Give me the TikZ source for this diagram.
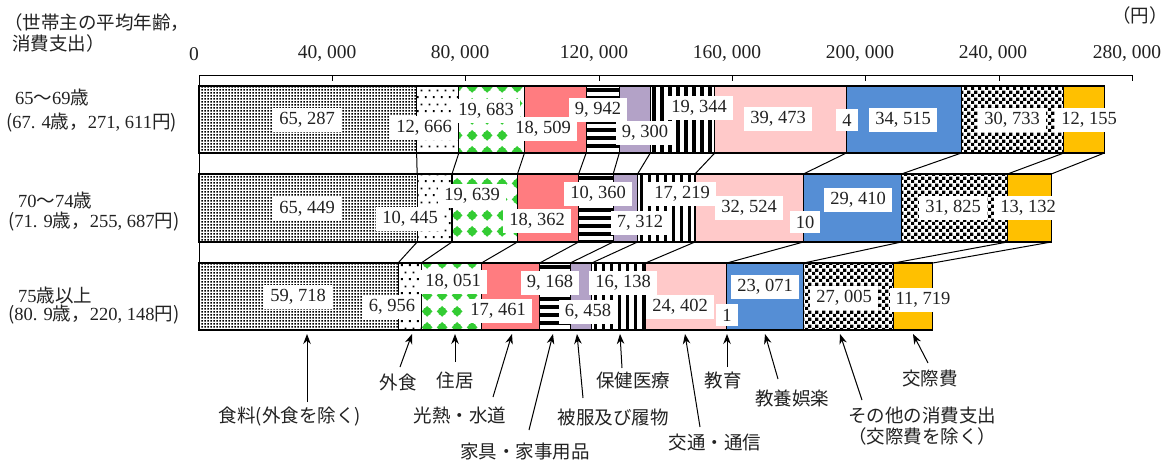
\documentclass[tikz,border=0pt]{standalone}
\usepackage{fontspec}
\setmainfont{Liberation Serif}
\newfontfamily\jp{Noto Sans CJK JP}
\usetikzlibrary{patterns.meta,arrows.meta}
\definecolor{txt}{HTML}{222222}
\definecolor{cutil}{HTML}{FF7C80}
\definecolor{ccloth}{HTML}{B3A2C7}
\definecolor{ctrans}{HTML}{FFC9C9}
\definecolor{crecr}{HTML}{558ED5}
\definecolor{csocial}{HTML}{FFC000}
\definecolor{cgreen}{HTML}{33CC33}
\tikzdeclarepattern{name=finedots,type=uncolored,bottom left={(0pt,0pt)},top right={(3pt,3pt)},tile size={(3pt,3pt)},
  code={\fill (0.6pt,0.6pt) rectangle (2.4pt,2.4pt);}}
\tikzdeclarepattern{name=sparsedots,type=uncolored,bottom left={(0pt,0pt)},top right={(8pt,14pt)},tile size={(8pt,14pt)},
  code={\fill (1pt,1pt) rectangle (3pt,3pt); \fill (5pt,8pt) rectangle (7pt,10pt);}}
\tikzdeclarepattern{name=greenblob,type=uncolored,bottom left={(0pt,0pt)},top right={(15pt,16pt)},tile size={(15pt,16pt)},
  code={\fill (7.5pt,2.3pt) -- (13.2pt,8pt) -- (7.5pt,13.7pt) -- (1.8pt,8pt) -- cycle;
        \fill (4pt,4.5pt) rectangle (11pt,11.5pt);}}
\tikzdeclarepattern{name=checker,type=uncolored,bottom left={(0pt,0pt)},top right={(6.6pt,6.6pt)},tile size={(6.6pt,6.6pt)},
  code={\fill (0pt,0pt) rectangle (3.3pt,3.3pt); \fill (3.3pt,3.3pt) rectangle (6.6pt,6.6pt);}}
\newcommand\hstripebox[4]{%
  \begin{scope}\clip (#1,#2) rectangle (#3,#4);
  \foreach \yy in {0,8,...,72} \fill (#1,{#2+\yy+2}) rectangle (#3,{#2+\yy+5.6});
  \end{scope}\path[seg] (#1,#2) rectangle (#3,#4);}
\newcommand\vstripebox[4]{%
  \begin{scope}\clip (#1,#2) rectangle (#3,#4);
  \foreach \xx in {0,8,...,72} \fill ({#1+\xx+2.2},#2) rectangle ({#1+\xx+5.6},#4);
  \end{scope}\path[seg] (#1,#2) rectangle (#3,#4);}
\tikzset{
  seg/.style={draw=black, line width=1.1pt},
  food/.style={seg, pattern=finedots},
  eat/.style={seg, pattern=sparsedots},
  house/.style={seg, pattern=greenblob, pattern color=cgreen},
  util/.style={seg, fill=cutil},
  cloth/.style={seg, fill=ccloth},
  trans/.style={seg, fill=ctrans},
  edu/.style={seg},
  recr/.style={seg, fill=crecr},
  other/.style={seg, pattern=checker},
  social/.style={seg, fill=csocial},
  conn/.style={line width=1pt},
  num/.style={font=\fontsize{18.5}{20}\selectfont, fill=white, text=txt, inner xsep=6pt, inner ysep=4.5pt},
  axl/.style={font=\fontsize{19.5}{21}\selectfont, text=txt, inner sep=0pt},
  lab/.style={font=\fontsize{18.5}{21}\selectfont\jp, text=txt, inner sep=0pt},
  side/.style={font=\fontsize{18.5}{21}\selectfont, text=txt, inner sep=0pt, anchor=west},
  arr/.style={-{Stealth[length=10pt,width=7.5pt]}, line width=1pt},
}
\begin{document}
\begin{tikzpicture}[x=1pt,y=-1pt]
\useasboundingbox[fill=white] (0,0) rectangle (1173,463);
% top texts
\node[side] (ttl1) at (4,23) {{\jp （世帯主の平均年齢，}};
\node[side] (ttl2) at (12,43) {{\jp 消費支出）}};
\node[lab] (yen) at (1140,15) {（円）};
% axis
\draw[line width=1pt] (199,75) -- (1132.33,75);
\foreach \k in {0,...,7} \draw[line width=1pt] ({199+\k*133.333},75) -- ({199+\k*133.333},80.5);
\node[axl] (ax0) at (194,54) {0};
\node[axl] (ax1) at (327,54) {40, 000};
\node[axl] (ax2) at (460,54) {80, 000};
\node[axl] (ax3) at (594,54) {120, 000};
\node[axl] (ax4) at (727,54) {160, 000};
\node[axl] (ax5) at (860,54) {200, 000};
\node[axl] (ax6) at (993,54) {240, 000};
\node[axl] (ax7) at (1127,54) {280, 000};
% bar 1
\path[food]   (199,86) rectangle (416.62,153);
\path[eat]    (416.62,86) rectangle (458.84,153);
\path[house]  (458.84,86) rectangle (524.45,153);
\path[util]   (524.45,86) rectangle (586.15,153);
\hstripebox{586.15}{86}{619.29}{153}
\path[cloth]  (619.29,86) rectangle (650.29,153);
\vstripebox{650.29}{86}{714.77}{153}
\path[trans]  (714.77,86) rectangle (846.35,153);
\path[edu]    (846.35,86) rectangle (846.36,153);
\path[recr]   (846.36,86) rectangle (961.41,153);
\path[other]  (961.41,86) rectangle (1063.85,153);
\path[social] (1063.85,86) rectangle (1104.37,153);
% bar 2
\path[food]   (199,174) rectangle (417.16,242);
\path[eat]    (417.16,174) rectangle (451.98,242);
\path[house]  (451.98,174) rectangle (517.44,242);
\path[util]   (517.44,174) rectangle (578.65,242);
\hstripebox{578.65}{174}{613.18}{242}
\path[cloth]  (613.18,174) rectangle (637.56,242);
\vstripebox{637.56}{174}{694.95}{242}
\path[trans]  (694.95,174) rectangle (803.37,242);
\path[edu]    (803.37,174) rectangle (803.40,242);
\path[recr]   (803.40,174) rectangle (901.43,242);
\path[other]  (901.43,174) rectangle (1007.52,242);
\path[social] (1007.52,174) rectangle (1051.29,242);
% bar 3
\path[food]   (199,263) rectangle (398.06,330);
\path[eat]    (398.06,263) rectangle (421.25,330);
\path[house]  (421.25,263) rectangle (481.42,330);
\path[util]   (481.42,263) rectangle (539.62,330);
\hstripebox{539.62}{263}{570.18}{330}
\path[cloth]  (570.18,263) rectangle (591.71,330);
\vstripebox{591.71}{263}{645.50}{330}
\path[trans]  (645.50,263) rectangle (726.84,330);
\path[edu]    (726.84,263) rectangle (726.85,330);
\path[recr]   (726.85,263) rectangle (803.75,330);
\path[other]  (803.75,263) rectangle (893.76,330);
\path[social] (893.76,263) rectangle (932.83,330);
% series lines
\draw[line width=1pt] (199,75) -- (199,330);
\foreach \a/\b in {199/199,416.62/417.16,458.84/451.98,524.45/517.44,586.15/578.65,619.29/613.18,650.29/637.56,714.77/694.95,846.35/803.37,961.41/901.43,1063.85/1007.52,1104.37/1051.29}
  \draw[conn] (\a,153) -- (\b,174);
\foreach \a/\b in {199/199,417.16/398.06,451.98/421.25,517.44/481.42,578.65/539.62,613.18/570.18,637.56/591.71,694.95/645.50,803.37/726.84,901.43/803.75,1007.52/893.76,1051.29/932.83}
  \draw[conn] (\a,242) -- (\b,263);
% value labels bar 1
\node[num] (v11) at (307,120) {65, 287};
\node[num] (v12) at (424,128) {12, 666};
\node[num] (v13) at (486,111) {19, 683};
\node[num] (v14) at (543,129) {18, 509};
\node[num] (v15) at (598,110) {9, 942};
\node[num] (v16) at (645,133) {9, 300};
\node[num] (v17) at (699,108) {19, 344};
\node[num] (v18) at (778,119) {39, 473};
\node[num] (v19) at (847,120) {4};
\node[num] (v110) at (903,120) {34, 515};
\node[num] (v111) at (1012,120) {30, 733};
\node[num] (v112) at (1089,120) {12, 155};
% value labels bar 2
\node[num] (v21) at (307,209) {65, 449};
\node[num] (v22) at (410,219) {10, 445};
\node[num] (v23) at (472,196) {19, 639};
\node[num] (v24) at (537,221) {18, 362};
\node[num] (v25) at (598,194) {10, 360};
\node[num] (v26) at (640,223) {7, 312};
\node[num] (v27) at (682,194) {17, 219};
\node[num] (v28) at (749,208) {32, 524};
\node[num] (v29) at (805,222) {10};
\node[num] (v210) at (858,200) {29, 410};
\node[num] (v211) at (953,208) {31, 825};
\node[num] (v212) at (1028,208) {13, 132};
% value labels bar 3
\node[num] (v31) at (298,297) {59, 718};
\node[num] (v32) at (392,307) {6, 956};
\node[num] (v33) at (453,282) {18, 051};
\node[num] (v34) at (498,311) {17, 461};
\node[num] (v35) at (550,283) {9, 168};
\node[num] (v36) at (588,312) {6, 458};
\node[num] (v37) at (623,283) {16, 138};
\node[num] (v38) at (680,307) {24, 402};
\node[num] (v39) at (727,315) {1};
\node[num] (v310) at (765,287) {23, 071};
\node[num] (v311) at (844,298) {27, 005};
\node[num] (v312) at (923,300) {11, 719};
% side labels
\node[side] (g1a) at (15,97) {65{\jp ～}69{\jp 歳}};
\node[side] (g1b) at (6,123) {{\jp (}67. 4{\jp 歳，}271, 611{\jp 円)}};
\node[side] (g2a) at (18,200) {70{\jp ～}74{\jp 歳}};
\node[side] (g2b) at (8,222) {{\jp (}71. 9{\jp 歳，}255, 687{\jp 円)}};
\node[side] (g3a) at (18,295) {75{\jp 歳以上}};
\node[side] (g3b) at (8,315) {{\jp (}80. 9{\jp 歳，}220, 148{\jp 円)}};
% category labels
\node[lab] (c1) at (290,417) {食料(外食を除く)};
\node[lab] (c2) at (398,382) {外食};
\node[lab] (c3) at (455,380) {住居};
\node[lab] (c4) at (460,415) {光熱・水道};
\node[lab] (c5) at (525,452) {家具・家事用品};
\node[lab] (c6) at (613,417) {被服及び履物};
\node[lab] (c7) at (633,380) {保健医療};
\node[lab] (c8) at (715,442) {交通・通信};
\node[lab] (c9) at (723,380) {教育};
\node[lab] (c10) at (792,398) {教養娯楽};
\node[lab,align=center] (c11) at (922,426) {その他の消費支出\\（交際費を除く）};
\node[lab] (c12) at (930,378) {交際費};
% arrows
\coordinate (s1) at (307,402); \coordinate (t1) at (307,334);
\coordinate (s2) at (400,367); \coordinate (t2) at (412,334);
\coordinate (s3) at (455,362); \coordinate (t3) at (455,334);
\coordinate (s4) at (493,397); \coordinate (t4) at (512,334);
\coordinate (s5) at (529,430); \coordinate (t5) at (553,334);
\coordinate (s6) at (583,398); \coordinate (t6) at (577,334);
\coordinate (s7) at (622,368); \coordinate (t7) at (620,334);
\coordinate (s8) at (700,427); \coordinate (t8) at (685,334);
\coordinate (s9) at (727,367); \coordinate (t9) at (727,334);
\coordinate (s10) at (778,379); \coordinate (t10) at (765,334);
\coordinate (s11) at (862,400); \coordinate (t11) at (840,334);
\coordinate (s12) at (928,363); \coordinate (t12) at (913,334);
\foreach \i in {1,...,12} \draw[arr] (s\i) -- (t\i);
\end{tikzpicture}
\end{document}
